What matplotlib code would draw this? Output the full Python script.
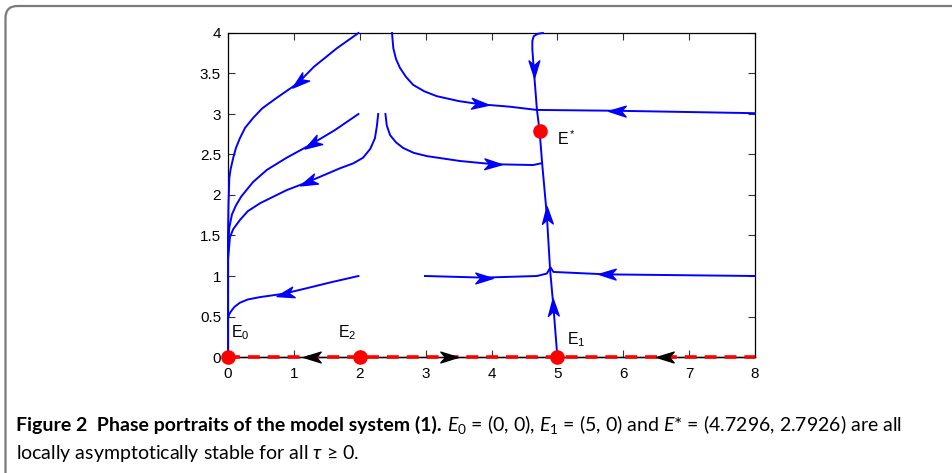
import numpy as np
import matplotlib
matplotlib.use('Agg')
import matplotlib.pyplot as plt
from matplotlib.path import Path
from matplotlib.markers import MarkerStyle
from matplotlib.transforms import Affine2D
from matplotlib.patches import FancyBboxPatch

# trajectories (x, y)
curve_a_x = [1.98, 1.65, 1.30, 1.06, 0.74, 0.52, 0.38, 0.26, 0.18, 0.12, 0.08, 0.04, 0.02, 0.008, 0.0, 0.0]
curve_a_y = [4.00, 3.81, 3.58, 3.38, 3.20, 3.07, 2.95, 2.83, 2.70, 2.58, 2.46, 2.32, 2.21, 1.90, 1.50, 0.0]
curve_b_x = [1.98, 1.62, 1.25, 0.89, 0.59, 0.38, 0.20, 0.12, 0.06, 0.02, 0.0]
curve_b_y = [3.00, 2.80, 2.62, 2.46, 2.31, 2.16, 1.98, 1.87, 1.76, 1.60, 1.35]
curve_c_x = [2.28, 2.26, 2.23, 2.16, 2.05, 1.90, 1.70, 1.21, 0.89, 0.49, 0.30, 0.18, 0.08, 0.03, 0.0]
curve_c_y = [3.00, 2.85, 2.70, 2.57, 2.46, 2.39, 2.33, 2.16, 2.06, 1.90, 1.80, 1.69, 1.58, 1.48, 1.20]
curve_i_x = [1.98, 1.55, 1.20, 0.84, 0.49, 0.30, 0.18, 0.10, 0.06, 0.02, 0.0, 0.0]
curve_i_y = [1.00, 0.92, 0.85, 0.78, 0.74, 0.71, 0.67, 0.62, 0.58, 0.53, 0.48, 0.40]
curve_d_x = [2.39, 2.41, 2.46, 2.55, 2.66, 2.82, 3.02, 3.52, 4.03, 4.63, 4.75]
curve_d_y = [3.00, 2.86, 2.74, 2.65, 2.58, 2.52, 2.48, 2.42, 2.38, 2.37, 2.39]
curve_e_x = [2.49, 2.50, 2.51, 2.55, 2.61, 2.70, 2.81, 2.98, 3.17, 3.50, 3.83, 4.28, 4.69]
curve_e_y = [4.00, 3.90, 3.81, 3.68, 3.57, 3.46, 3.36, 3.28, 3.22, 3.16, 3.12, 3.09, 3.05]
curve_f_x = [8.00, 5.90, 4.71]
curve_f_y = [3.01, 3.04, 3.05]
curve_g_x = [8.00, 5.75, 4.94, 4.90]
curve_g_y = [1.00, 1.02, 1.05, 1.10]
curve_h_x = [2.99, 3.88, 4.69, 4.84, 4.89]
curve_h_y = [1.00, 0.98, 1.00, 1.03, 1.10]
top_x = [4.78, 4.70, 4.64, 4.62, 4.62, 4.64, 4.69, 4.73]
top_y = [4.00, 3.99, 3.96, 3.90, 3.80, 3.57, 3.05, 2.79]
bottom_x = [5.00, 4.94, 4.89, 4.84, 4.77, 4.73]
bottom_y = [0.00, 0.62, 1.07, 1.75, 2.38, 2.79]

# arrow heads: position and direction along the trajectory
arrow_x = [1.08, 1.27, 1.22, 0.86, 4.03, 3.83, 5.90, 4.64, 4.84, 4.94, 5.75, 3.88]
arrow_y = [3.39, 2.63, 2.16, 0.78, 2.38, 3.12, 3.04, 3.55, 1.75, 0.62, 1.02, 0.98]
arrow_dx = [-0.56, -0.36, -0.49, -0.70, 1.0, 1.0, -1.0, 0.01, -0.05, -0.05, -1.0, 1.0]
arrow_dy = [-0.38, -0.18, -0.17, -0.14, -0.02, -0.07, 0.01, -1.0, 1.0, 1.0, 0.01, 0.0]
axis_arrow_x = [1.27, 3.35, 6.63]
axis_arrow_dx = [-1.0, 1.0, -1.0]

eq_x = [0.0, 2.0, 5.0, 4.7296]
eq_y = [0.0, 0.0, 0.0, 2.7926]
eq_labels = [r'$\mathregular{E_0}$', r'$\mathregular{E_2}$', r'$\mathregular{E_1}$', r'$\mathregular{E^*}$']
label_x = [0.05, 1.67, 5.15, 5.0]
label_y = [0.30, 0.30, 0.22, 2.70]

plt.rcParams['font.family'] = ['Liberation Sans', 'DejaVu Sans']
plt.rcParams['mathtext.fontset'] = 'custom'
plt.rcParams['mathtext.rm'] = 'Lato'
plt.rcParams['mathtext.it'] = 'Lato:italic'
plt.rcParams['mathtext.bf'] = 'Lato:bold'

fig = plt.figure(figsize=(9.52, 4.73), dpi=100)
ax = fig.add_axes([228 / 952, 1 - 357 / 473, 527 / 952, 324 / 473])

blue = '#0000ff'
curves = [(curve_a_x, curve_a_y), (curve_b_x, curve_b_y), (curve_c_x, curve_c_y),
          (curve_i_x, curve_i_y), (curve_d_x, curve_d_y), (curve_e_x, curve_e_y),
          (curve_f_x, curve_f_y), (curve_g_x, curve_g_y), (curve_h_x, curve_h_y),
          (top_x, top_y), (bottom_x, bottom_y)]
for cx, cy in curves:
    ax.plot(cx, cy, color=blue, lw=1.4, clip_on=False, zorder=3)

ax.set_xlim(0, 8)
ax.set_ylim(0, 4)

# x axis trajectory: black line with red dashes on top
ax.plot([0, 8], [0, 0], color='black', lw=1.0, clip_on=False, zorder=4)
ax.plot([0, 8], [0, 0], color='#ff0000', lw=2.6, dashes=(3.3, 2.2), clip_on=False, zorder=5)

head = Path([(1, 0), (-1, 0.62), (-0.45, 0), (-1, -0.62), (1, 0)],
            [Path.MOVETO, Path.LINETO, Path.LINETO, Path.LINETO, Path.CLOSEPOLY])


def draw_head(x, y, dx, dy, color, z):
    p0 = ax.transData.transform((x, y))
    p1 = ax.transData.transform((x + dx * 0.01, y + dy * 0.01))
    ang = np.degrees(np.arctan2(p1[1] - p0[1], p1[0] - p0[0]))
    m = MarkerStyle(head, transform=Affine2D().rotate_deg(ang))
    ax.plot([x], [y], marker=m, color=color, markersize=12.5, lw=0,
            clip_on=False, zorder=z)


for x, y, dx, dy in zip(arrow_x, arrow_y, arrow_dx, arrow_dy):
    draw_head(x, y, dx, dy, blue, 6)
for x, dx in zip(axis_arrow_x, axis_arrow_dx):
    draw_head(x, 0, dx, 0, 'black', 6)

ax.plot(eq_x, eq_y, 'o', color='#ff0000', markersize=9.5, lw=0, clip_on=False, zorder=7)
for lx, ly, s in zip(label_x, label_y, eq_labels):
    ax.text(lx, ly, s, fontsize=11.5, ha='left', va='center')

ax.set_xticks(np.arange(0, 9, 1))
ax.set_yticks(np.arange(0, 4.01, 0.5))
ax.set_yticklabels(['0', '0.5', '1', '1.5', '2', '2.5', '3', '3.5', '4'])
ax.tick_params(direction='in', length=5, width=0.8, top=True, right=True,
               labelsize=11, color='#333333')
ax.tick_params(axis='x', pad=7)
ax.tick_params(axis='y', pad=5)
for s in ax.spines.values():
    s.set_linewidth(0.9)

# rounded frame around the figure
frame = FancyBboxPatch((0.055, -0.3), 9.8, 4.67 + 0.3,
                       boxstyle='round,pad=0,rounding_size=0.12',
                       transform=fig.dpi_scale_trans, fill=False,
                       edgecolor='#7a7a7a', lw=1.6, clip_on=False)
fig.patches.append(frame)

# caption
cap_font = ['Lato', 'DejaVu Sans']
fig.canvas.draw()
r = fig.canvas.get_renderer()
t1 = fig.text(16 / 952, 1 - 431 / 473, 'Figure 2  Phase portraits of the model system (1).',
              fontsize=13, fontweight='bold', family=cap_font, va='baseline')
t2 = fig.text(0, 1 - 431 / 473,
              r'$E_0$ = (0, 0), $E_1$ = (5, 0) and $E$* = (4.7296, 2.7926) are all',
              fontsize=13, family=cap_font, va='baseline')
t3 = fig.text(16 / 952, 1 - 459 / 473, r'locally asymptotically stable for all $\tau$ ≥ 0.',
              fontsize=13, family=cap_font, va='baseline')
# scale the caption so the first line ends where the reference ends
w = t1.get_window_extent(r).width + 5 + t2.get_window_extent(r).width
size = min(14, 13 * (905 - 16) / w)
for t in (t1, t2, t3):
    t.set_fontsize(size)
bb = t1.get_window_extent(r)
t2.set_x((bb.x1 + 5) / 952)

fig.savefig('out.png', dpi=100)
